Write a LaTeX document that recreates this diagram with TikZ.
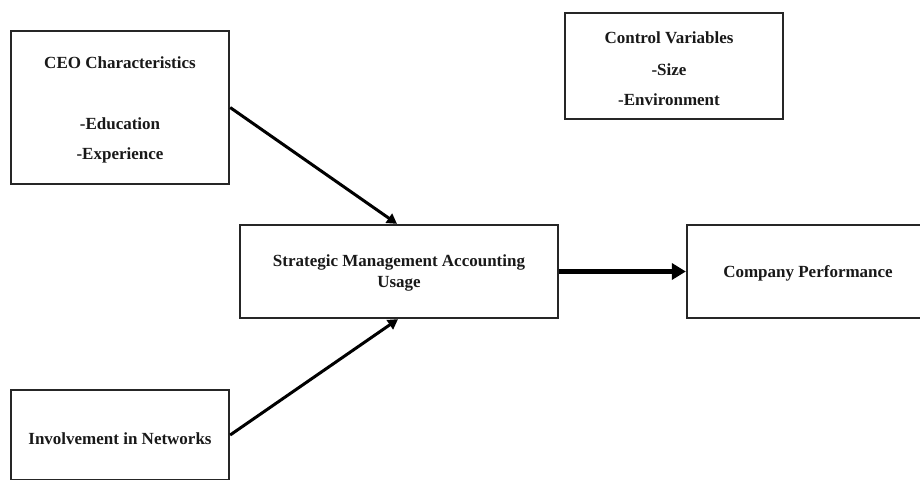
\documentclass[tikz,border=0pt]{standalone}
\usepackage{fontspec}
\setmainfont{Liberation Serif}
\usetikzlibrary{arrows.meta}
\begin{document}
\begin{tikzpicture}[x=1pt,y=-1pt,
  box/.style={draw=black!85,line width=2.3pt,inner sep=0pt,minimum width=#1},
  lbl/.style={font=\fontsize{17}{21}\selectfont\bfseries,text=black!90,inner sep=0pt,align=center},
  conn/.style={line width=3pt,-{Triangle[length=10pt,width=11pt]}},
  thick conn/.style={line width=5pt,-{Triangle[length=14pt,width=16pt]}}]
\useasboundingbox (0,0) rectangle (920,479);
\clip (0,0) rectangle (920,479);
% boxes
\node[box=218pt,minimum height=153pt] (ceo) at (120,107.5) {};
\node[box=218pt,minimum height=106pt] (ctrl) at (674,66) {};
\node[box=318pt,minimum height=93pt] (sma) at (399,271.5) {};
\node[box=260pt,minimum height=93pt] (cp) at (817,271.5) {};
\node[box=218pt,minimum height=90pt] (inv) at (120,435) {};
% texts
\node[lbl] (t1) at (120,63) {CEO Characteristics};
\node[lbl] (t2) at (120,124) {-Education};
\node[lbl] (t3) at (120,155) {-Experience};
\node[lbl] (t4) at (669,38) {Control Variables};
\node[lbl] (t5) at (669,70) {-Size};
\node[lbl] (t6) at (669,100) {-Environment};
\node[lbl] (t7) at (399,272.5) {Strategic Management Accounting\\Usage};
\node[lbl] (t8) at (808,273) {Company Performance};
\node[lbl] (t9) at (120,439) {Involvement in Networks};
% connectors
\draw[conn] (ceo.east) -- ([xshift=-2pt]sma.north);
\draw[conn] (inv.east) -- ([xshift=-1pt]sma.south);
\draw[thick conn] (sma.east) -- (cp.west);
\end{tikzpicture}
\end{document}
